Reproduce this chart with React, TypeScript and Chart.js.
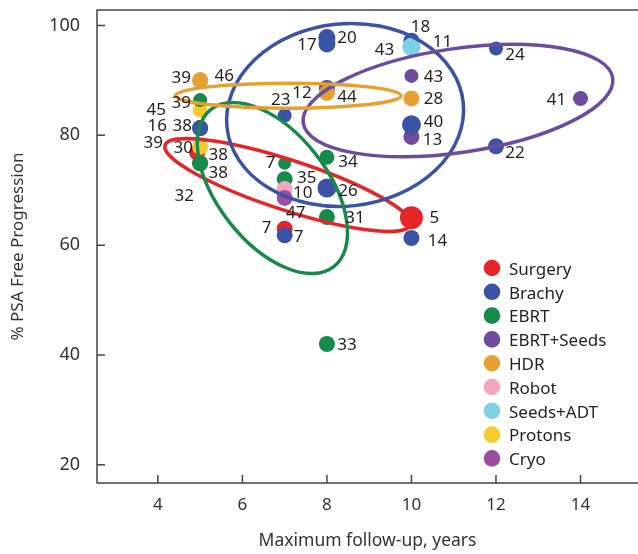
import React, { useEffect, useRef } from 'react';
import { Chart, registerables } from 'chart.js';

Chart.register(...registerables);

// ---------- DATA ----------
const SERIES_NAMES = ['Surgery', 'Brachy', 'EBRT', 'EBRT+Seeds', 'HDR', 'Robot', 'Seeds+ADT', 'Protons', 'Cryo'];

const surgeryX = [10, 7, 4.93, 4.93];
const surgeryY = [65, 63, 76.9, 76.9];
const surgeryRefs = ['5', '7', '38', '39'];

const brachyX = [8, 8, 10, 12, 12, 10, 8, 7, 5, 5, 8, 7, 10];
const brachyY = [97.8, 96.6, 97.2, 95.8, 78, 81.9, 88.6, 83.6, 81.3, 81.3, 70.4, 61.8, 61.3];
const brachyRefs = ['17', '20', '18', '24', '22', '40', '12', '23', '38', '16', '26', '7', '14'];

const ebrtX = [5, 5, 7, 7, 8, 8, 8, 5];
const ebrtY = [86.4, 74.9, 74.9, 72.0, 76, 65.1, 42, 74.9];
const ebrtRefs = ['39', '38', '7', '35', '34', '31', '33', '32'];

const ebrtSeedsX = [10, 10, 14];
const ebrtSeedsY = [90.8, 79.7, 86.7];
const ebrtSeedsRefs = ['43', '13', '41'];

const hdrX = [5, 5, 8, 10];
const hdrY = [90, 90, 87.7, 86.7];
const hdrRefs = ['39', '46', '44', '28'];

const robotX = [7];
const robotY = [70.2];
const robotRefs = ['10'];

const seedsAdtX = [10, 10];
const seedsAdtY = [96.1, 96.1];
const seedsAdtRefs = ['11', '43'];

const protonsX = [5, 5];
const protonsY = [77.9, 84.6];
const protonsRefs = ['30', '45'];

const cryoX = [7];
const cryoY = [68.6];
const cryoRefs = ['47'];

const X_TICKS = [4, 6, 8, 10, 12, 14];
const Y_TICKS = [20, 40, 60, 80, 100];

// group outlines (centre in data units, radii in axis units, tilt in degrees)
const ELLIPSES = [
  { series: 0, cx: 7.07, cy: 70.94, rx: 3.05, ry: 4.55, angle: 18 },
  { series: 1, cx: 8.43, cy: 83.7, rx: 2.81, ry: 16.6, angle: -6 },
  { series: 2, cx: 6.71, cy: 70.4, rx: 2.36, ry: 10.0, angle: 52 },
  { series: 3, cx: 11.1, cy: 86.32, rx: 3.7, ry: 9.46, angle: -8.3 },
  { series: 4, cx: 7.085, cy: 87.2, rx: 2.67, ry: 2.27, angle: 0 },
];

// ---------- STYLE ----------
const FONT = '"Noto Sans", "DejaVu Sans", sans-serif';
const COLORS = ['#e52629', '#3b53a4', '#17894a', '#6c4c9d', '#e6a032', '#f4a6c0', '#7dd1e4', '#f4cc2c', '#9c4d9f'];
const DRAW_ORDER = [9, 7, 5, 8, 4, 3, 1, 6, 2];
const RADII = [
  [11.5, 8, 8, 8],
  [8.5, 8.5, 8, 7, 8, 9.5, 8, 7, 8, 8, 9.5, 8, 8],
  [7, 8, 6.5, 8, 7.5, 8, 8, 8],
  [7, 8, 7.5],
  [8, 8, 8, 8],
  [8],
  [9, 9],
  [8, 7.5],
  [8],
];
const LABEL_OFFSETS = [
  [[23, 0], [-18, 0], [21, 3], [-44, -9]],
  [[-20, 8], [20, -6], [9, -14], [19, 7], [19, 7], [22, -3], [-25, 5], [-4, -15], [-18, -2], [-43, -2], [21, 3], [14, 2], [26, 3]],
  [[-19, 3], [18, 10], [-14, 0], [22, -1], [21, 5], [28, 1], [20, 1], [-16, 33]],
  [[22, 1], [21, 3], [-24, 2]],
  [[-19, -2], [24, -4], [20, 4], [22, 1]],
  [[18, 4]],
  [[31, -5], [-27, 3]],
  [[-17, 1], [-44, 0]],
  [[11, 15]],
];

const SERIES_X = [surgeryX, brachyX, ebrtX, ebrtSeedsX, hdrX, robotX, seedsAdtX, protonsX, cryoX];
const SERIES_Y = [surgeryY, brachyY, ebrtY, ebrtSeedsY, hdrY, robotY, seedsAdtY, protonsY, cryoY];
const SERIES_REFS = [surgeryRefs, brachyRefs, ebrtRefs, ebrtSeedsRefs, hdrRefs, robotRefs, seedsAdtRefs, protonsRefs, cryoRefs];

const overlayPlugin = {
  id: 'overlay',
  afterDatasetsDraw(chart: any) {
    const { ctx, chartArea, scales } = chart;
    const xs = scales.x;
    const ys = scales.y;
    ctx.save();
    // ellipses
    ELLIPSES.forEach((e) => {
      const cx = xs.getPixelForValue(e.cx);
      const cy = ys.getPixelForValue(e.cy);
      const rx = Math.abs(xs.getPixelForValue(e.cx + e.rx) - cx);
      const ry = Math.abs(ys.getPixelForValue(e.cy + e.ry) - cy);
      ctx.beginPath();
      ctx.ellipse(cx, cy, rx, ry, (e.angle * Math.PI) / 180, 0, Math.PI * 2);
      ctx.strokeStyle = COLORS[e.series];
      ctx.lineWidth = 3.5;
      ctx.stroke();
    });
    // point reference labels
    ctx.font = `17px ${FONT}`;
    ctx.fillStyle = '#231f20';
    ctx.textAlign = 'center';
    ctx.textBaseline = 'middle';
    SERIES_REFS.forEach((refs, si) => {
      refs.forEach((txt, i) => {
        const px = xs.getPixelForValue(SERIES_X[si][i]);
        const py = ys.getPixelForValue(SERIES_Y[si][i]);
        const [dx, dy] = LABEL_OFFSETS[si][i];
        ctx.fillText(txt, px + dx, py + dy);
      });
    });
    // frame and inward ticks
    ctx.strokeStyle = '#444';
    ctx.lineWidth = 1.5;
    ctx.beginPath();
    ctx.moveTo(chartArea.right, chartArea.top);
    ctx.lineTo(chartArea.left, chartArea.top);
    ctx.lineTo(chartArea.left, chartArea.bottom);
    ctx.lineTo(chartArea.right, chartArea.bottom);
    X_TICKS.forEach((v) => {
      const px = xs.getPixelForValue(v);
      ctx.moveTo(px, chartArea.bottom);
      ctx.lineTo(px, chartArea.bottom - 8);
    });
    Y_TICKS.forEach((v) => {
      const py = ys.getPixelForValue(v);
      ctx.moveTo(chartArea.left, py);
      ctx.lineTo(chartArea.left + 8, py);
    });
    ctx.stroke();
    // legend
    const lx = chartArea.right - 146;
    const ly = chartArea.bottom - 215;
    ctx.textAlign = 'left';
    ctx.textBaseline = 'middle';
    ctx.font = `17px ${FONT}`;
    SERIES_NAMES.forEach((name, i) => {
      const yy = ly + i * 23.8;
      ctx.beginPath();
      ctx.arc(lx, yy, 8.3, 0, Math.PI * 2);
      ctx.fillStyle = COLORS[i];
      ctx.fill();
      ctx.fillStyle = '#231f20';
      ctx.fillText(name, lx + 17, yy + 2);
    });
    ctx.restore();
  },
};

export default function App() {
  const canvasRef = useRef<HTMLCanvasElement | null>(null);

  useEffect(() => {
    if (!canvasRef.current) return;
    const datasets = SERIES_NAMES.map((name, si) => ({
      label: name,
      data: SERIES_X[si].map((xv, i) => ({ x: xv, y: SERIES_Y[si][i] })),
      backgroundColor: COLORS[si],
      borderWidth: 0,
      pointRadius: RADII[si],
      pointHoverRadius: RADII[si],
      order: DRAW_ORDER[si],
    }));
    const chart = new Chart(canvasRef.current, {
      type: 'scatter',
      data: { datasets },
      options: {
        animation: false,
        responsive: false,
        layout: { autoPadding: false, padding: { top: 10, right: 0, bottom: 0, left: 0 } },
        plugins: { legend: { display: false }, tooltip: { enabled: false } },
        scales: {
          x: {
            type: 'linear',
            min: 2.56,
            max: 15.36,
            afterBuildTicks: (s: any) => {
              s.ticks = X_TICKS.map((v) => ({ value: v }));
            },
            afterFit: (s: any) => {
              s.height = 71;
              s.paddingLeft = 0;
              s.paddingRight = 0;
            },
            grid: { display: false, drawTicks: false },
            border: { display: false },
            ticks: { font: { family: FONT, size: 17 }, color: '#333', padding: 12 },
            title: {
              display: true,
              text: 'Maximum follow-up, years',
              font: { family: FONT, size: 17.5 },
              color: '#333',
              padding: { top: 0, bottom: 2 },
            },
          },
          y: {
            type: 'linear',
            min: 16.7,
            max: 102.8,
            afterBuildTicks: (s: any) => {
              s.ticks = Y_TICKS.map((v) => ({ value: v }));
            },
            afterFit: (s: any) => {
              s.width = 97;
              s.paddingTop = 0;
              s.paddingBottom = 0;
            },
            grid: { display: false, drawTicks: false },
            border: { display: false },
            ticks: { font: { family: FONT, size: 18 }, color: '#333', padding: 17 },
            title: {
              display: true,
              text: '% PSA Free Progression',
              font: { family: FONT, size: 17 },
              color: '#333',
              padding: { top: 8, bottom: 0 },
            },
          },
        },
      },
      plugins: [overlayPlugin],
    } as any);
    return () => chart.destroy();
  }, []);

  return (
    <div style={{ position: 'absolute', left: 0, top: 0, width: 638, height: 554, background: '#fff' }}>
      <canvas ref={canvasRef} width={638} height={554} style={{ width: 638, height: 554, display: 'block' }} />
    </div>
  );
}
